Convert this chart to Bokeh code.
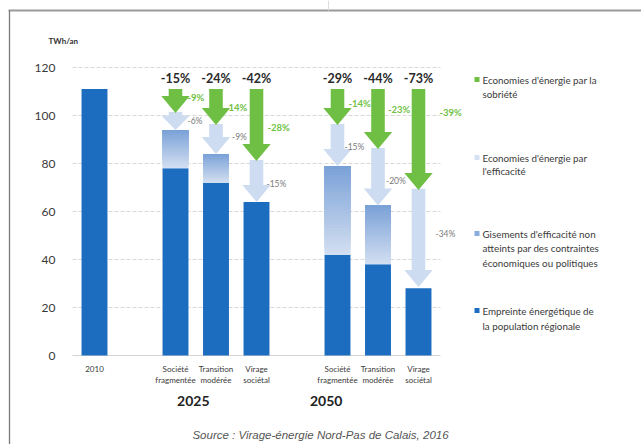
from bokeh.plotting import figure
from bokeh.models import Range1d, LinearAxis, FixedTicker
from bokeh.core.properties import value
from bokeh.embed import file_html
from bokeh.resources import INLINE

# ---------------- data ----------------
reference_label = "2010"
reference_value = 111
scenario_labels = ["Société\nfragmentée", "Transition\nmodérée", "Virage\nsociétal",
                   "Société\nfragmentée", "Transition\nmodérée", "Virage\nsociétal"]
group_labels = ["2025", "2050"]
total_pct = ["-15%", "-24%", "-42%", "-29%", "-44%", "-73%"]
sobriety_pct = ["-9%", "-14%", "-28%", "-14%", "-23%", "-39%"]
efficiency_pct = ["-6%", "-9%", "-15%", "-15%", "-20%", "-34%"]
after_sobriety = [101, 96, 81, 96, 86, 69]       # level after sobriety savings
after_efficiency = [94, 84, 64, 79, 62.5, 28.5]  # level after efficiency savings
footprint = [78, 72, 64, 42, 38, 28]             # empreinte énergétique
y_ticks = [0, 20, 40, 60, 80, 100, 120]
legend_labels = [
    ["Economies d'énergie par la", "sobriété"],
    ["Economies d'énergie par", "l'efficacité"],
    ["Gisements d'efficacité non", "atteints par des contraintes", "économiques ou politiques"],
    ["Empreinte énergétique de", "la population régionale"],
]
source_text = "Source : Virage-énergie Nord-Pas de Calais, 2016"

# ---------------- positions / styles ----------------
ref_pos = 0
scen_pos = [2, 3, 4, 6, 7, 8]
group_pos = [2.44, 5.72]
PX = 40.5          # pixels per slot
PY = 2.4           # pixels per unit
W, H = 641, 444
X0, Y0 = 94, 355   # pixel of slot 0 / value 0

def vx(px):
    return (px - X0) / PX

def vy(py):
    return (Y0 - py) / PY

DARK = "#1c6cbf"
GREEN = "#6fbf44"
LIGHT = "#cddcf1"
GRAD_TOP = (122, 161, 215)
GRAD_BOT = (211, 223, 241)
FONT = "Lato"
TXT = "#3a3a3a"
BAR_W = 0.64

p = figure(width=W, height=H, output_backend="svg", toolbar_location=None,
           x_range=Range1d(-X0 / PX, (W - X0) / PX),
           y_range=Range1d((Y0 - H) / PY, Y0 / PY),
           x_axis_location=None, y_axis_location=None, min_border=0)
p.outline_line_color = None
p.background_fill_color = "white"
p.border_fill_color = "white"
p.grid.visible = False

# frame lines
top_v = vy(10)
p.segment(x0=[vx(8)], y0=[top_v], x1=[vx(641)], y1=[top_v], line_color="#9a9a9a", line_width=2.2)
p.segment(x0=[vx(9)], y0=[top_v], x1=[vx(9)], y1=[vy(444)], line_color="#7a7a7a", line_width=1.3)
p.segment(x0=[vx(328)], y0=[vy(0)], x1=[vx(328)], y1=[top_v], line_color="#dddddd", line_width=1)

# y axis
yaxis = LinearAxis(fixed_location=vx(70), ticker=FixedTicker(ticks=y_ticks),
                   axis_line_color=None, major_tick_line_color=None, minor_tick_line_color=None,
                   major_label_standoff=9, major_label_text_font=FONT,
                   major_label_text_font_size="12px", major_label_text_color=TXT)
p.add_layout(yaxis, "left")

# gridlines
gx0, gx1 = vx(72), vx(440)
p.segment(x0=[gx0] * (len(y_ticks) - 1), x1=[gx1] * (len(y_ticks) - 1),
          y0=y_ticks[1:], y1=y_ticks[1:], line_color="#d8d8d8", line_width=1, line_dash="4 2")
p.segment(x0=[gx0], x1=[gx1], y0=[0], y1=[0], line_color="#d4d4d4", line_width=1.2)

# bars
p.vbar(x=[ref_pos], top=[reference_value], bottom=0, width=BAR_W, fill_color=DARK, line_color=None)
p.vbar(x=scen_pos, top=footprint, bottom=0, width=BAR_W, fill_color=DARK, line_color=None)

# gradient (unreached efficiency): overlapping slices, bottom to top
N = 30
gl, gr, gb, gt, gc = [], [], [], [], []
for xc, lo, hi in zip(scen_pos, footprint, after_efficiency):
    if hi - lo < 2:
        continue
    step = (hi - lo) / N
    for k in range(N):
        f = (k + 0.5) / N  # 0 bottom -> 1 top
        c = tuple(int(round(GRAD_BOT[j] + (GRAD_TOP[j] - GRAD_BOT[j]) * f)) for j in range(3))
        gl.append(xc - BAR_W / 2); gr.append(xc + BAR_W / 2)
        gb.append(lo + k * step); gt.append(hi)
        gc.append("#%02x%02x%02x" % c)
p.quad(left=gl, right=gr, bottom=gb, top=gt, fill_color=gc, line_color=None)

SHAFT = 6.8 / PX
HEAD = 14.2 / PX
HEAD_H = 17 / PY

def arrow(xc, y0, y1):
    hh = min(HEAD_H, (y0 - y1) * 0.8)
    yn = y1 + hh
    xs = [xc - SHAFT, xc + SHAFT, xc + SHAFT, xc + HEAD, xc, xc - HEAD, xc - SHAFT]
    ys = [y0, y0, yn, yn, y1, yn, yn]
    return xs, ys

lx, ly = [], []
for xc, a, b in zip(scen_pos, after_sobriety, after_efficiency):
    xs, ys = arrow(xc, a + 0.5, b)
    lx.append(xs); ly.append(ys)
p.patches(lx, ly, fill_color=LIGHT, line_color=None)

gx, gy = [], []
for xc, a in zip(scen_pos, after_sobriety):
    xs, ys = arrow(xc, reference_value, a)
    gx.append(xs); gy.append(ys)
p.patches(gx, gy, fill_color=GREEN, line_color=None)

# percentage labels
p.text(x=scen_pos, y=[vy(78)] * 6, text=total_pct, text_font=value(FONT),
       text_font_size="12.5px", text_font_style="bold", text_color="#2a2a2a",
       text_align="center", text_baseline="middle")

green_label_y = [vy(97), vy(107), vy(127), vy(103), vy(109), vy(112)]
green_label_dx = [12, 9, 11, 11, 10, 21]
p.text(x=scen_pos, y=green_label_y, text=sobriety_pct, x_offset=green_label_dx,
       text_font=value(FONT), text_font_size="9.5px", text_font_style="bold",
       text_color=GREEN, text_align="left", text_baseline="middle")

gray_label_y = [vy(120), vy(136), vy(183), vy(146), vy(180), vy(233)]
gray_label_dx = [12, 16, 10, 7, 8, 17]
p.text(x=scen_pos, y=gray_label_y, text=efficiency_pct, x_offset=gray_label_dx,
       text_font=value(FONT), text_font_size="8.5px",
       text_color="#7a7a7a", text_align="left", text_baseline="middle")

# category labels
l1x, l1y, l1t, l2x, l2y, l2t = [ref_pos], [vy(368)], [reference_label], [], [], []
for xc, lab in zip(scen_pos, scenario_labels):
    a, b = lab.split("\n")
    l1x.append(xc); l1y.append(vy(368)); l1t.append(a)
    l2x.append(xc); l2y.append(vy(379)); l2t.append(b)
p.text(x=l1x, y=l1y, text=l1t, text_font=value(FONT), text_font_size="8px",
       text_color=TXT, text_align="center", text_baseline="middle")
p.text(x=l2x, y=l2y, text=l2t, text_font=value(FONT), text_font_size="8px",
       text_color=TXT, text_align="center", text_baseline="middle")
p.text(x=group_pos, y=[vy(400)] * 2, text=group_labels, text_font=value(FONT),
       text_font_size="14px", text_font_style="bold", text_color="#222222",
       text_align="center", text_baseline="middle")

# unit
p.text(x=[vx(48)], y=[vy(40)], text=["TWh/an"], text_font=value(FONT), text_font_size="8px",
       text_font_style="bold", text_color="#333333", text_align="left", text_baseline="middle")

# legend
legend_colors = [GREEN, "#d6e2f3", "#87acdd", DARK]
legend_y = [[79, 93], [157, 170], [233, 247, 262], [310, 325]]
sx, sy, sc, tx, ty, tt = [], [], [], [], [], []
for cols, ys, labs in zip(legend_colors, legend_y, legend_labels):
    sx.append(vx(476.5)); sy.append(vy(ys[0])); sc.append(cols)
    for yy, t in zip(ys, labs):
        tx.append(vx(482)); ty.append(vy(yy)); tt.append(t)
p.scatter(x=sx, y=sy, marker="square", size=5, fill_color=sc, line_color=None)
p.text(x=tx, y=ty, text=tt, text_font=value(FONT), text_font_size="9.8px",
       text_color=TXT, text_align="left", text_baseline="middle")

# source
p.text(x=[vx(320)], y=[vy(434)], text=[source_text], text_font=value("Liberation Sans"),
       text_font_size="11.5px", text_font_style="italic", text_color="#555555",
       text_align="center", text_baseline="middle")

open("out.html", "w").write(file_html(p, INLINE))
